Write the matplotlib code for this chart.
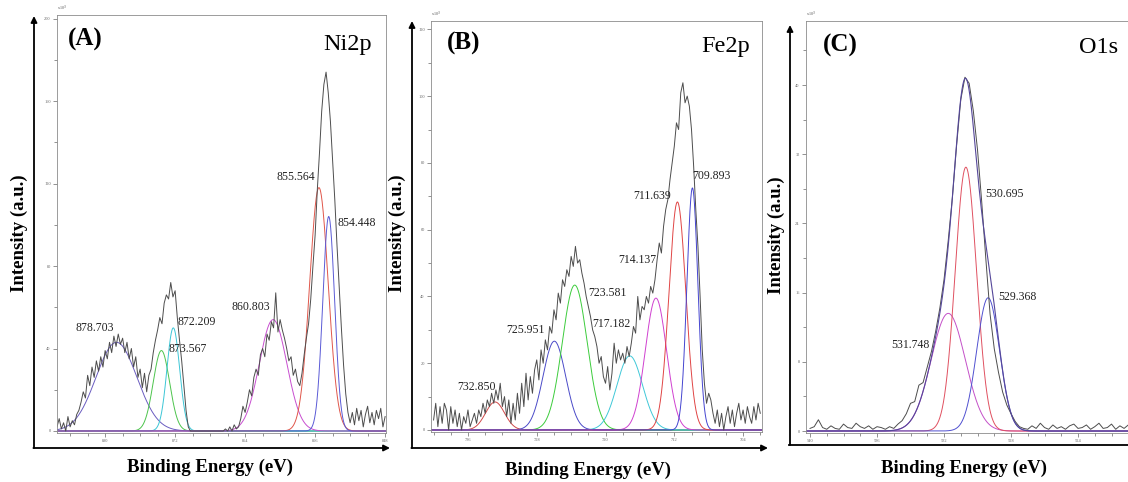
import numpy as np
import matplotlib.pyplot as plt
from matplotlib.ticker import MultipleLocator, FormatStrFormatter

plt.rcParams['font.family'] = ['Liberation Serif', 'DejaVu Serif']

# --- Ni2p spectrum (0.25 eV step, starting at 885.5 eV) ---
ni_start = 885.5
ni_counts = [2, 6, 1, 4, 0, 7, 2, 5, 3, 8,
             10, 14, 19, 16, 27,
             22, 31, 26, 34, 29, 36, 31, 39, 35, 43, 38, 46,
             41, 47, 42, 45, 38, 43, 35, 40, 31, 36, 26, 30,
             21, 28, 19, 27, 30, 38, 44, 49, 55, 52, 62, 66,
             64, 72, 65, 68, 55, 44, 34, 22, 10, 2, 0, 0,
             0, 0, 0, 0, 0, 0, 0, 0, 0, 0, 0, 0,
             0, 0, 1, 0, 2, 0, 3, 1, 2, 6, 12, 9,
             14, 20, 17, 26, 30, 27, 37, 40, 36, 47, 44, 53,
             50, 67, 48, 54, 49, 45, 40, 34, 36, 27, 30, 24,
             22, 28, 37, 45, 52, 64, 80, 95, 117, 135, 155, 168,
             174, 164, 150, 131, 112, 90, 70, 50, 32, 18, 9, 4,
             9, 3, 11, 5, 10, 2, 8, 12, 4, 9, 3, 10,
             6, 11, 2, 7]
ni_peaks = [878.703, 873.567, 872.209, 860.803, 855.564, 854.448]
ni_heights = [43, 39, 50, 54, 118, 104]
ni_fwhm = [5.5, 2.2, 1.7, 3.7, 2.5, 1.6]

# --- Fe2p spectrum (0.25 eV step, starting at 740.0 eV) ---
fe_start = 740.0
fe_counts = [3, 8, 1, 7, 2, 8, 6, 0, 7, 2, 6, 1, 5, 0, 4, 2,
             6, 1, 3, 5, 2, 6, 4, 8, 5, 9, 7, 11, 8, 12, 9, 14,
             7, 10, 4, 9, 2, 8, 3, 11, 5, 14, 7, 17, 9, 16, 11, 18,
             21, 15, 24, 20, 27, 24, 31, 29, 36, 33, 41, 38, 45, 43, 48, 46,
             52, 49, 55, 50, 51, 47, 44, 40, 37, 34, 30, 28, 25, 20, 22, 16,
             14, 19, 12, 17, 26, 20, 24, 21, 23, 20, 25, 22, 26, 31, 29, 40,
             33, 37, 36, 40, 38, 43, 41, 45, 51, 56, 53, 61, 66, 69, 75, 80,
             85, 92, 90, 101, 104, 98, 100, 97, 90, 79, 66, 55, 40, 24, 14, 8,
             11, 9, 5, 2, 6, 1, 5, 0, 4, 7, 2, 6, 1, 5, 8, 3,
             6, 2, 7, 4, 2, 7, 3, 8, 5]
fe_peaks = [732.850, 725.951, 723.581, 717.182, 714.137, 711.639, 709.893]
fe_heights = [8.4, 26.6, 43.4, 22.2, 39.5, 68.3, 72.5]
fe_fwhm = [2.6, 3.1, 3.4, 3.5, 2.9, 2.3, 1.5]

# --- O1s spectrum (0.25 eV step, starting at 540.0 eV) ---
o_start = 540.0
o_counts = [0.3, 0.5, 1.3, 0.4, 0.2, 0.6, 0.3, 0.2, 0.8, 0.4, 0.3, 0.9, 0.5,
            0.3, 0.6, 0.2, 0.5, 0.4, 0.2, 0.5, 0.3,
            0.8, 1.2, 2.0, 3.2, 3.4, 5.3, 5.6, 7.4, 9.2, 11.5, 14.2, 17.5,
            22.0, 27.0, 33.0, 38.3, 40.9, 40.2, 37.0, 32.5, 26.5, 19.8, 13.5, 9.5,
            6.8, 4.5, 3.0, 2.0, 1.1, 0.5, 0.3,
            0.2, 0.6, 0.3, 0.9, 0.4, 0.2, 0.7, 0.3, 0.5, 0.2, 0.6, 0.8, 0.3, 0.4,
            0.7, 0.2, 0.5, 0.9, 0.3, 0.4, 0.8, 0.2, 0.6, 0.3, 0.7, 0.4, 0.5]
o_peaks = [531.748, 530.695, 529.368]
o_heights = [13.6, 30.5, 15.4]
o_fwhm = [2.4, 1.5, 1.6]

W, H = 1128, 482
fig = plt.figure(figsize=(W / 100, H / 100), dpi=100)


def frac(l, t, r, b):
    return [l / W, 1 - b / H, (r - l) / W, (b - t) / H]


def gauss(e, c, h, w):
    return h * np.exp(-4 * np.log(2) * (e - c) ** 2 / w ** 2)


def panel(rect, xlim, ylim, xt, yt, start, counts, peaks, heights, widths,
          colors, label_xy, envelope=False):
    ax = fig.add_axes(rect)
    e = np.linspace(xlim[0], xlim[1], 2000)
    total = np.zeros_like(e)
    for c, h, w, col, (lx, ly) in zip(peaks, heights, widths, colors, label_xy):
        comp = gauss(e, c, h, w)
        total += comp
        ax.plot(e, comp, color=col, lw=0.7)
        ax.text(lx, ly, f'{c:.3f}', fontsize=8.5, ha='left', va='center', color='#222222')
    e_data = start - 0.25 * np.arange(len(counts))
    ax.plot(e_data, counts, color='#4d4d4d', lw=0.7)
    if envelope:
        ax.plot(e, total, color='#55479a', lw=0.8)
    ax.set_xlim(*xlim)
    ax.set_ylim(*ylim)
    ax.xaxis.set_major_locator(MultipleLocator(xt[0]))
    ax.xaxis.set_minor_locator(MultipleLocator(xt[1]))
    ax.yaxis.set_major_locator(MultipleLocator(yt[0]))
    ax.yaxis.set_minor_locator(MultipleLocator(yt[1]))
    ax.xaxis.set_major_formatter(FormatStrFormatter('%d'))
    ax.yaxis.set_major_formatter(FormatStrFormatter('%d'))
    ax.tick_params(which='both', direction='out', width=0.5, colors='#666666',
                   labelsize=3.2, pad=1.5)
    ax.tick_params(which='major', length=3)
    ax.tick_params(which='minor', length=2)
    for s in ax.spines.values():
        s.set_color('#8c8c8c')
        s.set_linewidth(0.6)
    ax.text(0.0, 1.004, 'x10$^3$', transform=ax.transAxes, fontsize=3,
            color='#555555', va='bottom')
    return ax


panel(frac(57, 15, 386, 433), (885.5, 847.9), (-0.97, 201.7), (8, 2), (40, 20),
      ni_start, ni_counts, ni_peaks, ni_heights, ni_fwhm,
      ['#6a5cc0', '#4cc44c', '#3cc6d6', '#c84ed0', '#e0564a', '#5a5ad6'],
      [(883.4, 50), (872.8, 40), (871.77, 53), (865.5, 60), (860.46, 123), (853.4, 101)])

panel(frac(431, 21, 762, 432), (740.3, 701.8), (-0.6, 122.5), (8, 2), (20, 10),
      fe_start, fe_counts, fe_peaks, fe_heights, fe_fwhm,
      ['#d04848', '#4a4ac8', '#3ccc3c', '#40c8d8', '#d040d0', '#e04444', '#4444d0'],
      [(737.2, 12.9), (731.5, 30), (722.0, 41), (721.6, 31.7), (718.5, 51),
       (716.8, 70), (709.9, 76)])

panel(frac(806, 21, 1140, 433), (540.24, 520.3), (-0.23, 47.4), (4, 1), (8, 4),
      o_start, o_counts, o_peaks, o_heights, o_fwhm,
      ['#c450c8', '#e05060', '#5050d0'],
      [(535.16, 9.9), (529.55, 27.4), (528.78, 15.5)], envelope=True)

# outer frame arrows and labels, drawn in pixel coordinates
ov = fig.add_axes([0, 0, 1, 1])
ov.set_xlim(0, W)
ov.set_ylim(H, 0)
ov.axis('off')
ov.patch.set_alpha(0)

arrow = dict(arrowstyle='-|>', color='black', lw=1.3, mutation_scale=9,
             shrinkA=0, shrinkB=0)
for x0, y0, ytop, xend in [(34, 448, 16, 390), (412, 448, 21, 768)]:
    ov.annotate('', xy=(x0, ytop), xytext=(x0, y0), arrowprops=arrow)
    ov.annotate('', xy=(xend, y0), xytext=(x0 - 0.6, y0), arrowprops=arrow)
ov.annotate('', xy=(790, 25), xytext=(790, 445), arrowprops=arrow)
ov.plot([789.4, 1128], [445, 445], color='black', lw=1.3)

for x, y in [(19, 233), (397, 233), (776, 235)]:
    ov.text(x, y, 'Intensity (a.u.)', rotation=90, fontsize=13.5, fontweight='bold',
            ha='center', va='center')
for x, y in [(210, 467), (588, 470), (964, 468)]:
    ov.text(x, y, 'Binding Energy (eV)', fontsize=13.5, fontweight='bold',
            ha='center', va='center')

for x, y, s in [(68, 39, '(A)'), (447, 43, '(B)'), (823, 45, '(C)')]:
    ov.text(x, y, s, fontsize=18, fontweight='bold', ha='left', va='center')
for x, y, s in [(372, 50, 'Ni2p'), (750, 52, 'Fe2p'), (1118, 53, 'O1s')]:
    ov.text(x, y, s, fontsize=17.5, ha='right', va='baseline')

fig.savefig('out.png', dpi=100)
